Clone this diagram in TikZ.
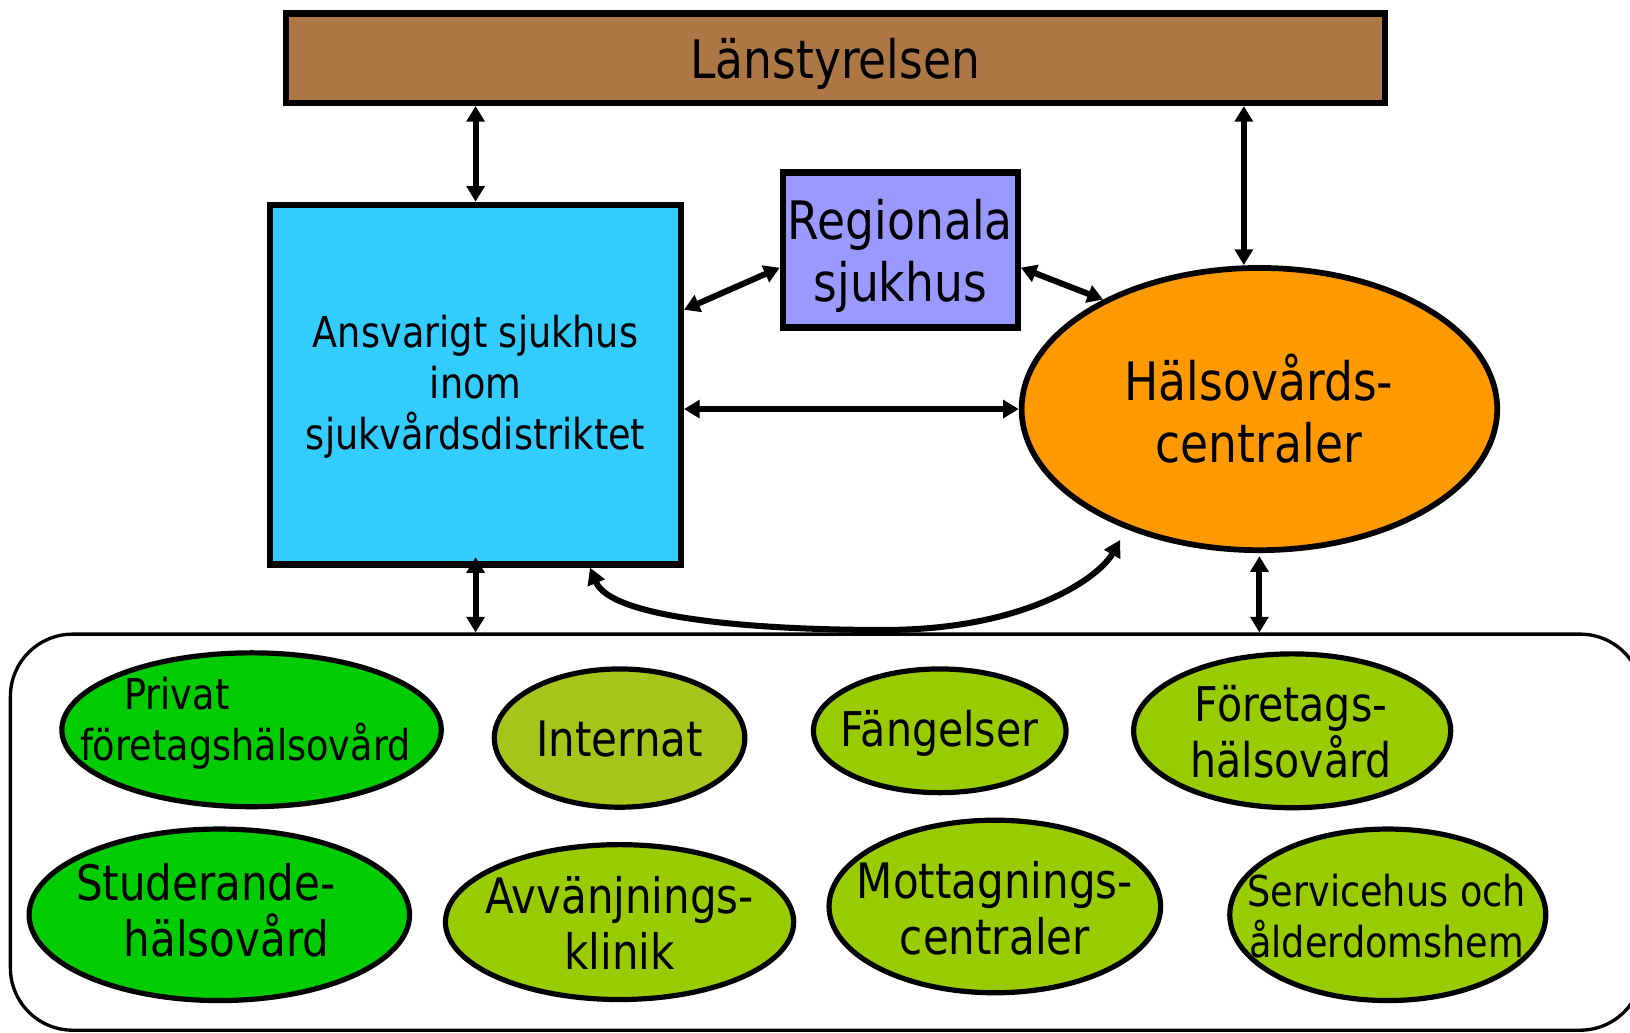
\documentclass[tikz,border=0pt]{standalone}
\usepackage{fontspec}
\setmainfont{DejaVu Sans}[FakeStretch=0.86]
\usetikzlibrary{shapes.geometric,arrows.meta}
\definecolor{brownbox}{HTML}{AD7745}
\definecolor{cyanbox}{HTML}{33CCFF}
\definecolor{lilac}{HTML}{9999FF}
\definecolor{orangebox}{HTML}{FF9900}
\definecolor{greenA}{HTML}{00CC00}
\definecolor{greenB}{HTML}{99CC00}
\definecolor{greenC}{HTML}{A6C51A}
\tikzset{
  boxnode/.style={draw=black, line width=6pt, inner sep=0pt, rectangle},
  ellnode/.style={draw=black, line width=5pt, inner sep=0pt, ellipse},
  txt/.style={inner sep=0pt, align=center, text=black},
  fL/.style={font=\fontsize{51}{60}\selectfont},
  fM/.style={font=\fontsize{47}{54}\selectfont},
  fS/.style={font=\fontsize{41}{49}\selectfont},
  arr/.style={line width=5.8pt, <->, >={Triangle[length=15pt,width=17pt]}},
  carr/.style={line width=5.8pt, <->, >={Triangle[length=16pt,width=17pt]}}
}
\begin{document}
\begin{tikzpicture}[x=1pt,y=-1pt]
\useasboundingbox (0,0) rectangle (1568,993);
\clip (0,0) rectangle (1568,993);
% container
\node[draw=black, line width=3.2pt, rounded corners=60pt, minimum width=1570pt, minimum height=381pt, inner sep=0pt] (cont) at (795,800.5) {};
% top boxes
\node[boxnode, fill=brownbox, minimum width=1057pt, minimum height=86pt] (lan) at (803.5,56) {};
\node[txt, fL] (tlan) at (803.5,61) {Länstyrelsen};
\node[boxnode, fill=cyanbox, minimum width=395pt, minimum height=346pt] (ans) at (457.5,370) {};
\node[txt, fS] (tans) at (457.5,372) {Ansvarigt sjukhus\\inom\\sjukvårdsdistriktet};
\node[boxnode, fill=lilac, minimum width=226pt, minimum height=149pt] (reg) at (866,240.5) {};
\node[txt, fL] (treg) at (866,246) {Regionala\\sjukhus};
\node[ellnode, line width=5.5pt, fill=orangebox, minimum width=457.5pt, minimum height=271.5pt] (hal) at (1211.5,393.5) {};
\node[txt, fL] (thal) at (1211,393) {Hälsovårds-\\centraler};
% ellipses in container
\node[ellnode, fill=greenA, minimum width=365pt, minimum height=148pt] (e1) at (242,702) {};
\node[txt, fS] (t1) at (236,696) {Privat\hspace*{132pt}\\företagshälsovård};
\node[ellnode, fill=greenC, minimum width=241pt, minimum height=133pt] (e2) at (596,710) {};
\node[txt, fM] (t2) at (596,711) {Internat};
\node[ellnode, fill=greenB, minimum width=243pt, minimum height=119pt] (e3) at (904,703) {};
\node[txt, font=\fontsize{46}{54}\selectfont] (t3) at (904,705) {Fängelser};
\node[ellnode, fill=greenB, minimum width=305pt, minimum height=148pt] (e4) at (1243,703) {};
\node[txt, font=\fontsize{46}{54}\selectfont] (t4) at (1242,704) {Företags-\\hälsovård};
\node[ellnode, fill=greenA, minimum width=366pt, minimum height=165pt] (e5) at (211,880) {};
\node[txt, fM] (t5) at (198,876) {Studerande-\\\hspace*{40pt}hälsovård};
\node[ellnode, fill=greenB, minimum width=335pt, minimum height=149pt] (e6) at (596,887) {};
\node[txt, fM] (t6) at (596,888) {Avvänjnings-\\klinik};
\node[ellnode, fill=greenB, minimum width=319pt, minimum height=166pt] (e7) at (957,872) {};
\node[txt, fM] (t7) at (957,874) {Mottagnings-\\centraler};
\node[ellnode, fill=greenB, minimum width=304pt, minimum height=165pt] (e8) at (1335,880) {};
\node[txt, fS] (t8) at (1334,881) {Servicehus och\\ålderdomshem};
% connectors
\draw[arr] (lan.south -| ans.north) -- (ans.north);
\draw[arr] ([xshift=-15pt]hal.north |- lan.south) -- ([xshift=-15pt]hal.north);
\draw[arr] ([yshift=-104pt]ans.north east) -- ([yshift=-17pt]reg.west);
\draw[arr] ([yshift=-17pt]reg.east) -- (hal.145);
\draw[arr] (ans.east |- hal.west) -- (hal.west);
\draw[arr] ([yshift=10pt]ans.south) -- (ans.south |- cont.north);
\draw[arr] ([yshift=-3pt]hal.south) -- (hal.south |- cont.north);
\draw[carr, shorten >=12pt] ([xshift=110pt]ans.south) .. controls +(20,48) and +(-130,0) .. (850,606) coordinate (cb) .. controls +(140,0) and +(-25,45) .. (hal.222);
\end{tikzpicture}
\end{document}
